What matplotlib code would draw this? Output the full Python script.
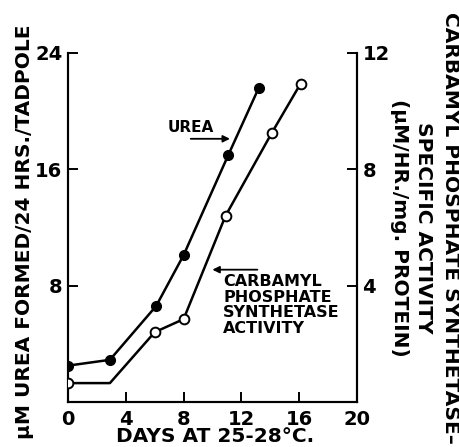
import matplotlib
matplotlib.use("Agg")
import matplotlib.pyplot as plt

# urea formed (left axis, uM / 24 hrs / tadpole)
urea_days = [0, 2.9, 6.1, 8.0, 11.1, 13.2]
urea_vals = [2.5, 2.9, 6.6, 10.1, 17.0, 21.6]

# carbamyl phosphate synthetase activity (right axis); day 3 is a bend, no point
cps_days = [0, 2.9, 6.0, 8.0, 10.9, 14.1, 16.1]
cps_vals = [0.65, 0.65, 2.4, 2.85, 6.4, 9.25, 10.95]
cps_marked = [0, 2, 3, 4, 5, 6]

left_ticks = [8, 16, 24]
right_ticks = [4, 8, 12]
x_ticks = [0, 4, 8, 12, 16, 20]

W, H = 459, 447
fig = plt.figure(figsize=(W / 100, H / 100), dpi=100)
ax = fig.add_axes([68 / W, 1 - 402 / H, (357 - 68) / W, (402 - 53) / H])
ax2 = ax.twinx()

tick_font = dict(fontsize=14, fontweight="bold")

ax.plot(urea_days, urea_vals, color="black", lw=1.8, marker="o", ms=7,
        mfc="black", mec="black", zorder=3)
ax2.plot(cps_days, cps_vals, color="black", lw=1.8, marker="o", ms=7,
         mfc="white", mec="black", mew=1.4, markevery=cps_marked, zorder=3)

ax.set_xlim(0, 20)
ax.set_ylim(0, 24)
ax2.set_ylim(0, 12)

ax.set_xticks(x_ticks)
ax.set_xticklabels([str(t) for t in x_ticks], **tick_font)
ax.set_yticks(left_ticks)
ax.set_yticklabels([str(t) for t in left_ticks], **tick_font)
ax2.set_yticks(right_ticks)
ax2.set_yticklabels([str(t) for t in right_ticks], **tick_font)

ax.tick_params(axis="both", direction="in", length=7, width=1.4, pad=4)
ax.tick_params(axis="x", pad=6)
ax2.tick_params(axis="y", direction="in", length=7, width=1.4, pad=4)

for a in (ax, ax2):
    a.spines["top"].set_visible(False)
    for s in ("left", "right", "bottom"):
        a.spines[s].set_linewidth(1.5)

# labels on the curves
ax.text(6.9, 18.9, "UREA", fontsize=11, fontweight="bold", va="center", ha="left")
ax.annotate("", xy=(11.4, 18.1), xytext=(8.3, 18.1),
            arrowprops=dict(arrowstyle="-|>", color="black", lw=1.3,
                            mutation_scale=10))
ax.annotate("", xy=(9.8, 9.1), xytext=(13.3, 9.1),
            arrowprops=dict(arrowstyle="-|>", color="black", lw=1.3,
                            mutation_scale=10))
ax.text(10.75, 8.8, "CARBAMYL\nPHOSPHATE\nSYNTHETASE\nACTIVITY",
        fontsize=11.5, fontweight="bold", va="top", ha="left", linespacing=1.05)

# axis titles
lab = dict(fontweight="bold", ha="center", va="center")
fig.text(25 / W, 1 - 232 / H, "\u03bcM UREA FORMED/24 HRS./TADPOLE",
         rotation=90, fontsize=14.5, **lab)
fig.text(215 / W, 1 - 437 / H, "DAYS AT 25-28\u00b0C.", fontsize=14.5, **lab)
fig.text(450 / W, 1 - 228 / H, "CARBAMYL PHOSPHATE SYNTHETASE\u2013",
         rotation=270, fontsize=14.5, **lab)
fig.text(423 / W, 1 - 228 / H, "SPECIFIC ACTIVITY",
         rotation=270, fontsize=14.5, **lab)
fig.text(399 / W, 1 - 228 / H, "(\u03bcM/HR./mg. PROTEIN)",
         rotation=270, fontsize=14.5, **lab)

fig.savefig("out.png", dpi=100)
